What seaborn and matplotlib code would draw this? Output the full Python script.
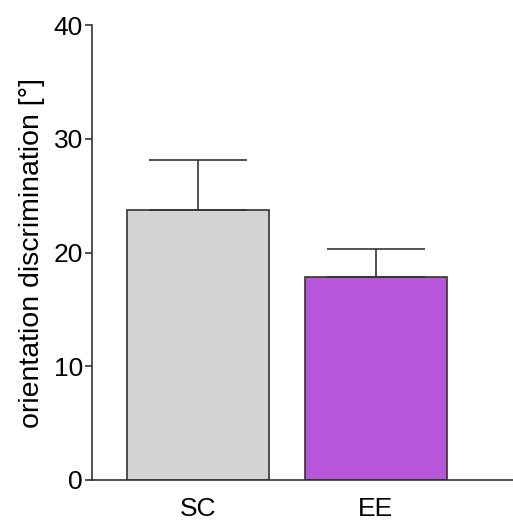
import matplotlib
matplotlib.use("Agg")
import matplotlib.pyplot as plt
import seaborn as sns
import numpy as np
import pandas as pd

# data
groups = ["SC", "EE"]
means = [23.7, 17.85]
sem = [4.4, 2.5]
colors = ["#d3d3d3", "#b756d8"]

sns.set_style("ticks")
plt.rcParams["font.family"] = ["Liberation Sans", "DejaVu Sans"]
plt.rcParams["text.color"] = "black"
plt.rcParams["axes.labelcolor"] = "black"
plt.rcParams["xtick.color"] = "black"
plt.rcParams["ytick.color"] = "black"

df = pd.DataFrame({"group": groups, "value": means})

fig = plt.figure(figsize=(5.13, 5.22), dpi=100)
ax = fig.add_axes([0.179, 0.0805, 0.83, 0.8715])

sns.barplot(data=df, x="group", y="value", hue="group", palette=colors,
            width=0.8, edgecolor="#333333", linewidth=1.2, legend=False,
            errorbar=None, ax=ax, saturation=1)

# upper-only error bars
x = np.arange(len(groups))
ax.errorbar(x, means, yerr=[np.zeros(len(sem)), sem], fmt="none",
            ecolor="#333333", elinewidth=1.2, capsize=35, capthick=1.2,
            zorder=1)

ax.set_ylim(0, 40)
ax.set_xlim(-0.6, 1.8)
ax.set_yticks([0, 10, 20, 30, 40])
ax.set_xlabel("")
ax.set_ylabel("orientation discrimination [°]", fontsize=20.5, labelpad=6)
ax.tick_params(axis="y", labelsize=19, length=5, width=1.2, color="#333333", pad=1.5)
ax.tick_params(axis="x", labelsize=19, length=0, pad=12.5)
for s in ["top", "right"]:
    ax.spines[s].set_visible(False)
for s in ["left", "bottom"]:
    ax.spines[s].set_linewidth(1.2)
    ax.spines[s].set_color("#333333")

fig.savefig("out.png", dpi=100)
